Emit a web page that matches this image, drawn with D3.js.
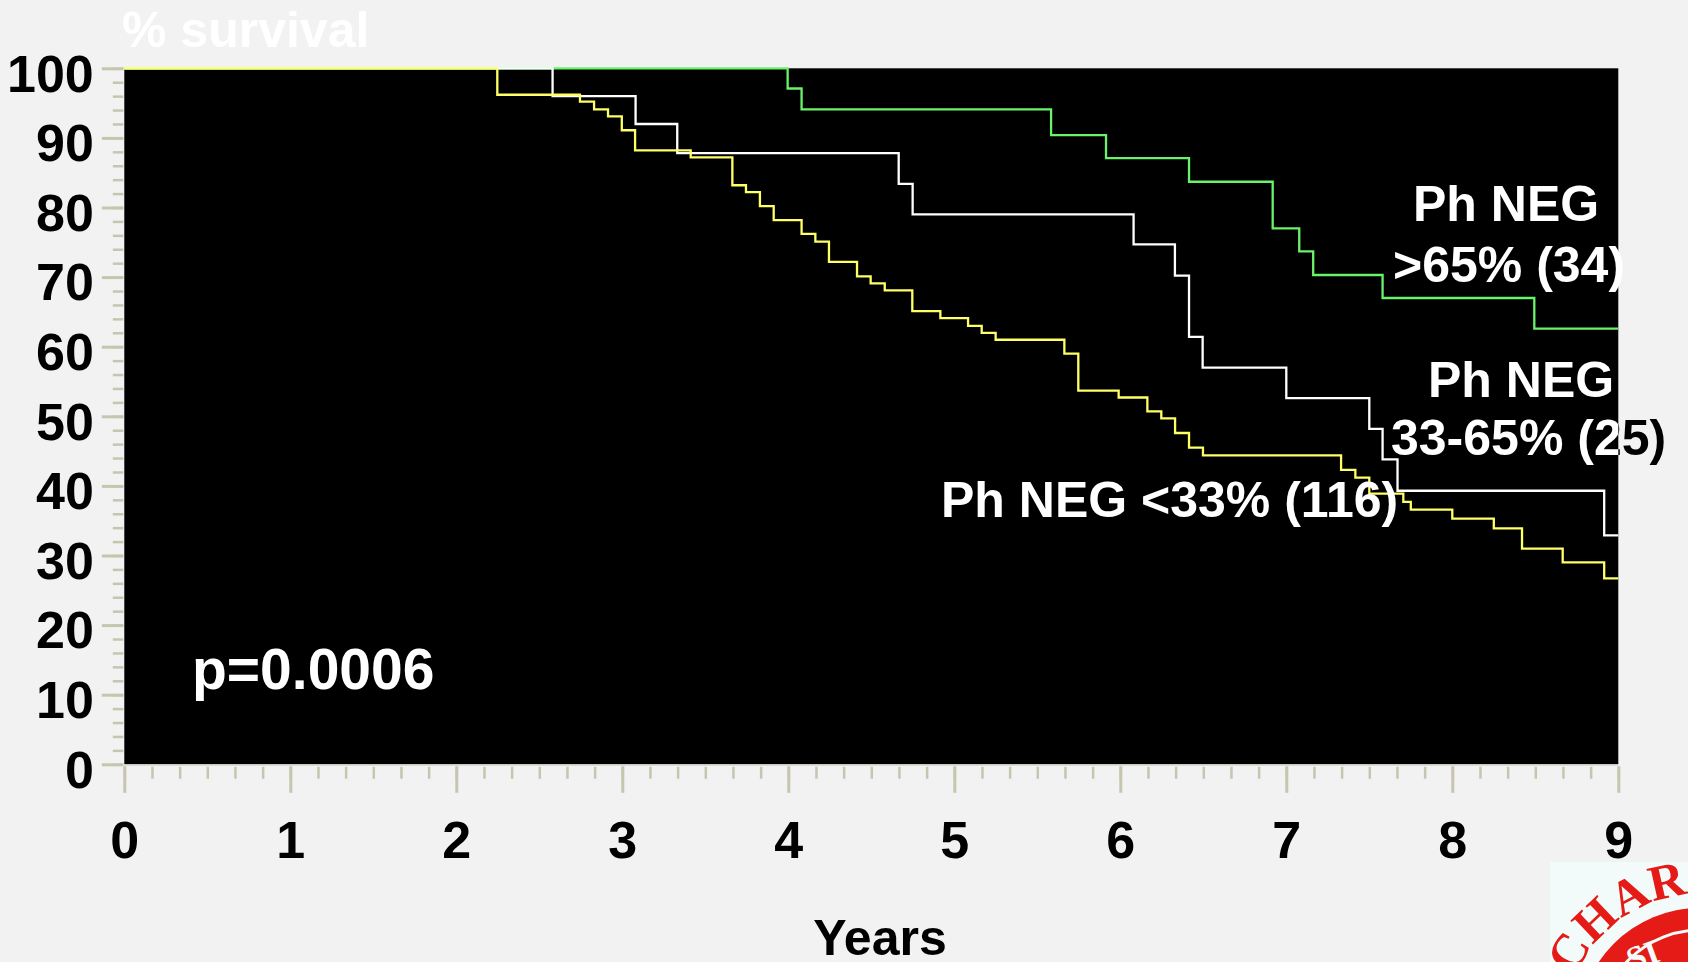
<!DOCTYPE html>
<meta charset="utf-8">
<script src="https://d3js.org/d3.v7.min.js"></script>
<style>
body { margin: 0; background: #f2f2f2; }
svg { display: block; }
text { font-family: "Liberation Sans", Arial, sans-serif; font-weight: bold; }
</style>
<body>
<script>

    // tick labels
    var yearTicks = [0, 1, 2, 3, 4, 5, 6, 7, 8, 9];
    var survivalTicks = [0, 10, 20, 30, 40, 50, 60, 70, 80, 90, 100];

    // Ph NEG >65% (34) - green
    var highYears    = [0, 3.996, 4.08, 5.583, 5.914, 6.414, 6.918, 7.078, 7.162, 7.58, 8.494, 9];
    var highSurvival = [100, 97.1, 94.1, 90.4, 87.1, 83.7, 77.0, 73.7, 70.3, 67.0, 62.6, 62.6];

    // Ph NEG 33-65% (25) - white
    var midYears    = [0, 2.58, 3.08, 3.331, 4.665, 4.749, 6.08, 6.329, 6.414, 6.496, 7.0, 7.5, 7.58, 7.67, 8.915, 9];
    var midSurvival = [100, 96.0, 92.0, 87.8, 83.4, 79.0, 74.7, 70.2, 61.4, 57.0, 52.6, 48.2, 43.8, 39.3, 32.9, 32.9];

    // Ph NEG <33% (116) - yellow
    var lowYears = [0, 2.247, 2.745, 2.83, 2.914, 2.997, 3.077, 3.412, 3.663, 3.745, 3.829, 3.912,
                    4.08, 4.163, 4.245, 4.414, 4.496, 4.581, 4.747, 4.916, 5.083, 5.165, 5.249,
                    5.663, 5.747, 5.99, 6.163, 6.247, 6.33, 6.414, 6.498, 7.33, 7.416, 7.5,
                    7.705, 7.75, 8.0, 8.25, 8.42, 8.665, 8.915, 9];
    var lowSurvival = [100, 96.2, 95.2, 94.1, 93.1, 91.1, 88.2, 87.2, 83.2, 82.2, 80.2, 78.2,
                       76.2, 75.1, 72.2, 70.1, 69.1, 68.1, 65.1, 64.1, 63.0, 62.0, 61.0,
                       59.0, 53.7, 52.7, 50.7, 49.7, 47.6, 45.5, 44.4, 42.3, 41.2, 38.9,
                       37.7, 36.6, 35.3, 33.9, 31.0, 29.0, 26.7, 26.7];

    var highLabel = ["Ph NEG", ">65% (34)"];
    var midLabel  = ["Ph NEG", "33-65% (25)"];
    var lowLabel  = "Ph NEG <33% (116)";
    var pValue    = "p=0.0006";

    var width = 1688;
    var height = 962;
    var tickColor = "#c6c6b0";

    var svg = d3.select("body")
        .append("svg")
        .attr("width", width)
        .attr("height", height);

    svg.append("rect")
        .attr("width", width)
        .attr("height", height)
        .attr("fill", "#f2f2f2");

    // area do grafico
    var margin = {top: 68.3, left: 124.3};
    var plotW = 1494, plotH = 696;

    var x = d3.scaleLinear().domain([0, 9]).range([0, plotW]);
    var y = d3.scaleLinear().domain([0, 100]).range([plotH, 0]);

    var g = svg.append("g")
        .attr("transform", "translate(" + margin.left + "," + margin.top + ")");

    g.append("rect")
        .attr("width", plotW)
        .attr("height", plotH)
        .attr("fill", "#000");

    g.append("line")
        .attr("x1", 0).attr("x2", plotW)
        .attr("y1", plotH + 0.8).attr("y2", plotH + 0.8)
        .attr("stroke", "#d4d4cc")
        .attr("stroke-width", 1.5);

    // eixo X: ticks menores (2 meses) e maiores (anos)
    var xMinor = d3.range(0, 9 * 6 + 1).map(function(i) { return i / 6; });
    var gxMinor = g.append("g")
        .attr("transform", "translate(0," + (plotH + 2.5) + ")")
        .call(d3.axisBottom(x).tickValues(xMinor).tickSize(12).tickSizeOuter(0).tickFormat(""));
    gxMinor.select(".domain").remove();
    gxMinor.selectAll("line").attr("stroke", tickColor).attr("stroke-width", 2.5);

    var gx = g.append("g")
        .attr("transform", "translate(0," + (plotH + 2) + ")")
        .call(d3.axisBottom(x).tickValues(yearTicks).tickSize(26.5).tickSizeOuter(0));
    gx.select(".domain").remove();
    gx.selectAll("line").attr("stroke", tickColor).attr("stroke-width", 3);
    gx.selectAll("text")
        .attr("y", 92)
        .attr("dy", 0)
        .attr("fill", "#000")
        .style("font-size", "52px");

    // eixo Y: ticks menores (2%) e maiores (10%)
    var yMinor = d3.range(0, 101, 2);
    var gyMinor = g.append("g")
        .attr("transform", "translate(-1,0)")
        .call(d3.axisLeft(y).tickValues(yMinor).tickSize(10.5).tickSizeOuter(0).tickFormat(""));
    gyMinor.select(".domain").remove();
    gyMinor.selectAll("line").attr("stroke", tickColor).attr("stroke-width", 2.5);

    var gy = g.append("g")
        .attr("transform", "translate(-1,0)")
        .call(d3.axisLeft(y).tickValues(survivalTicks).tickSize(21.5).tickSizeOuter(0).tickPadding(8));
    gy.select(".domain").remove();
    gy.selectAll("line").attr("stroke", tickColor).attr("stroke-width", 3);
    gy.selectAll("text")
        .attr("dy", "0.44em")
        .attr("fill", "#000")
        .style("font-size", "52px");

    // curvas de Kaplan-Meier
    var curves = [
        {years: highYears, surv: highSurvival, color: "#6af26a"},
        {years: midYears,  surv: midSurvival,  color: "#ffffff"},
        {years: lowYears,  surv: lowSurvival,  color: "#ffff66"}
    ];

    var line = d3.line()
        .x(function(d) { return x(d[0]); })
        .y(function(d) { return y(d[1]); })
        .curve(d3.curveStepAfter);

    g.selectAll(".km")
        .data(curves)
        .enter()
        .append("path")
        .attr("class", "km")
        .attr("d", function(d) { return line(d3.zip(d.years, d.surv)); })
        .attr("fill", "none")
        .attr("stroke", function(d) { return d.color; })
        .attr("stroke-width", 2.3);

    // textos
    svg.append("text")
        .attr("x", 122).attr("y", 47)
        .attr("fill", "#ffffff")
        .style("font-size", "50px")
        .text("% survival");

    svg.append("text")
        .attr("x", 880).attr("y", 955)
        .attr("text-anchor", "middle")
        .attr("fill", "#000")
        .style("font-size", "50px")
        .text("Years");

    svg.append("text")
        .attr("x", 192).attr("y", 689)
        .attr("fill", "#ffffff")
        .style("font-size", "57px")
        .text(pValue);

    svg.append("text").attr("x", 1413).attr("y", 221).attr("fill", "#fff").style("font-size", "50px").text(highLabel[0]);
    svg.append("text").attr("x", 1393).attr("y", 282).attr("fill", "#fff").style("font-size", "50px").text(highLabel[1]);
    svg.append("text").attr("x", 1428).attr("y", 397).attr("fill", "#fff").style("font-size", "50px").text(midLabel[0]);

    // "33-65% (25)": preto fora da area, branco dentro
    svg.append("clipPath").attr("id", "plotclip")
        .append("rect")
        .attr("x", margin.left).attr("y", margin.top)
        .attr("width", plotW).attr("height", plotH);
    svg.append("text").attr("x", 1391).attr("y", 455).attr("fill", "#000").style("font-size", "50px").text(midLabel[1]);
    svg.append("text").attr("x", 1391).attr("y", 455).attr("fill", "#fff").attr("clip-path", "url(#plotclip)")
        .style("font-size", "50px").text(midLabel[1]);

    svg.append("text").attr("x", 941).attr("y", 517).attr("fill", "#fff").style("font-size", "50px").text(lowLabel);

    // logo no canto
    svg.append("clipPath").attr("id", "logoclip")
        .append("rect").attr("x", 1550).attr("y", 862).attr("width", 138).attr("height", 100);
    var logo = svg.append("g").attr("clip-path", "url(#logoclip)");
    logo.append("rect").attr("x", 1550).attr("y", 862).attr("width", 138).attr("height", 100).attr("fill", "#f3fafa");
    var cx = 1700, cy = 1030;
    logo.append("circle").attr("cx", cx).attr("cy", cy).attr("r", 122).attr("fill", "#e41b17");
    logo.append("circle").attr("cx", cx).attr("cy", cy).attr("r", 100).attr("fill", "none")
        .attr("stroke", "#f3fafa").attr("stroke-width", 3);
    var r = 136, a0 = 203 * Math.PI / 180, a1 = 300 * Math.PI / 180;
    logo.append("path").attr("id", "logoarc").attr("fill", "none")
        .attr("d", "M" + (cx + r * Math.cos(a0)) + "," + (cy + r * Math.sin(a0)) +
                   " A" + r + "," + r + " 0 0 1 " + (cx + r * Math.cos(a1)) + "," + (cy + r * Math.sin(a1)));
    logo.append("text")
        .attr("fill", "#e41b17")
        .style("font-family", "'Liberation Serif', serif")
        .style("font-size", "50px")
        .append("textPath").attr("href", "#logoarc").text("CHAR");
    logo.append("text").attr("x", 1628).attr("y", 968).attr("fill", "#f3fafa")
        .style("font-family", "'Liberation Serif', serif")
        .style("font-size", "34px")
        .attr("transform", "rotate(-20,1640,960)")
        .text("SI");

</script>
</body>
